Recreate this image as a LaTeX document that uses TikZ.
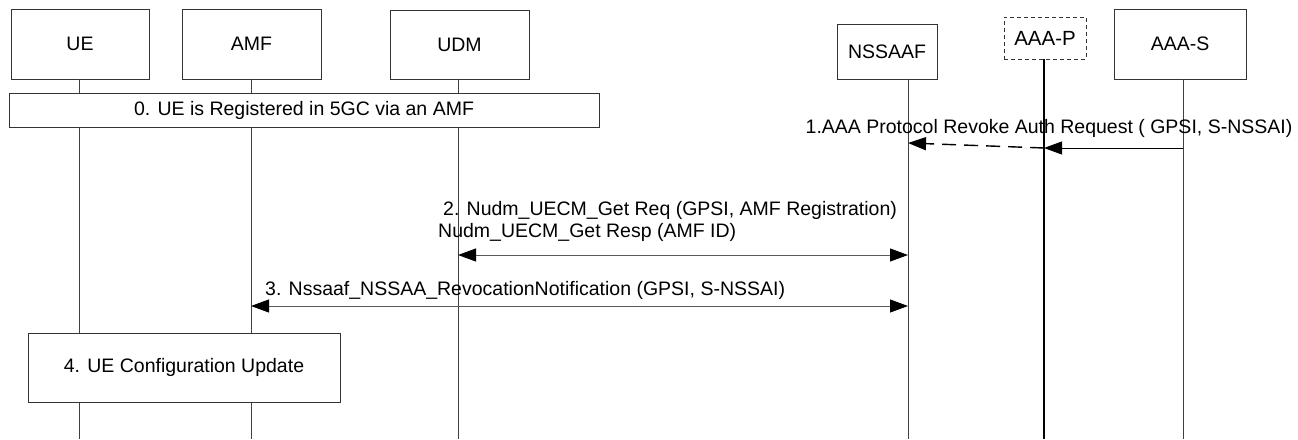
\documentclass[tikz,border=0pt]{standalone}
\usepackage{fontspec}
\setmainfont{Liberation Sans}
\usetikzlibrary{arrows.meta}
\tikzset{
  ent/.style={draw=black!80, line width=0.8pt, fill=white, inner sep=0pt, font=\fontsize{19.5}{22}\selectfont},
  lifeline/.style={draw=black!75, line width=0.8pt},
  msglabel/.style={inner sep=0pt, font=\fontsize{19.5}{22}\selectfont},
  tipA/.tip={Triangle[length=18pt,width=13pt,color=black]},
  msg/.style={draw=black, line width=0.9pt, -tipA},
  dmsg/.style={draw=black!65, line width=1pt, tipA-tipA},
  dashmsg/.style={draw=black, line width=1.4pt, dash pattern=on 14pt off 8pt, -tipA}
}
\begin{document}
\begin{tikzpicture}[x=1pt,y=-1pt]
\useasboundingbox (0,0) rectangle (1298,439);
% entity boxes
\node[ent, minimum width=138pt, minimum height=70pt] (ue) at (80,44) {UE};
\node[ent, minimum width=139pt, minimum height=70pt] (amf) at (251.5,44) {AMF};
\node[ent, minimum width=139pt, minimum height=69pt] (udm) at (459.5,44.5) {UDM};
\node[ent, minimum width=100pt, minimum height=55pt] (nssaaf) at (887,51.5) {NSSAAF};
\node[ent, dashed, dash pattern=on 4pt off 3pt, minimum width=82pt, minimum height=42pt, font=\fontsize{20.5}{22}\selectfont] (aaap) at (1045,38) {AAA-P};
\node[ent, minimum width=132pt, minimum height=70pt] (aaas) at (1180,44) {AAA-S};
% lifeline ends
\coordinate (ueT) at (79,79);   \coordinate (ueB) at (79,439);
\coordinate (amfT) at (251,79); \coordinate (amfB) at (251,439);
\coordinate (udmT) at (458,79); \coordinate (udmB) at (458,439);
\coordinate (nsT) at (908,79);  \coordinate (nsB) at (908,439);
\coordinate (apT) at (1044,59); \coordinate (apB) at (1044,439);
\coordinate (asT) at (1183,79); \coordinate (asB) at (1183,439);
\draw[lifeline] (ueT) -- (ueB);
\draw[lifeline] (amfT) -- (amfB);
\draw[lifeline] (udmT) -- (udmB);
\draw[lifeline] (nsT) -- (nsB);
\draw[lifeline, draw=black, line width=1.3pt] (apT) -- (apB);
\draw[lifeline] (asT) -- (asB);
% step 0
\node[ent, minimum width=590pt, minimum height=34pt] (s0) at (304,110.5) {0. UE is Registered in 5GC via an AMF};
% step 1
\node[msglabel] (l1) at (1049,128) {1.AAA Protocol Revoke Auth Request ( GPSI, S-NSSAI)};
\coordinate (as1) at (1183,148);
\coordinate (ap1) at (1044,148);
\coordinate (ns1) at (908,143);
\draw[msg] (as1) -- (ap1);
\draw[dashmsg] (ap1) -- (ns1);
% step 2
\node[msglabel, anchor=west] (l2a) at (443,210) {2. Nudm\_UECM\_Get Req (GPSI, AMF Registration)};
\node[msglabel, anchor=west] (l2b) at (438,232) {Nudm\_UECM\_Get Resp (AMF ID)};
\coordinate (udm2) at (458,255);
\coordinate (ns2) at (908,255);
\draw[dmsg] (udm2) -- (ns2);
% step 3
\node[msglabel, anchor=west] (l3) at (265,290) {3. Nssaaf\_NSSAA\_RevocationNotification (GPSI, S-NSSAI)};
\coordinate (amf3) at (251,306);
\coordinate (ns3) at (908,306);
\draw[dmsg] (amf3) -- (ns3);
% step 4
\node[ent, minimum width=312pt, minimum height=69pt] (s4) at (184,367.5) {4. UE Configuration Update};
\end{tikzpicture}
\end{document}
